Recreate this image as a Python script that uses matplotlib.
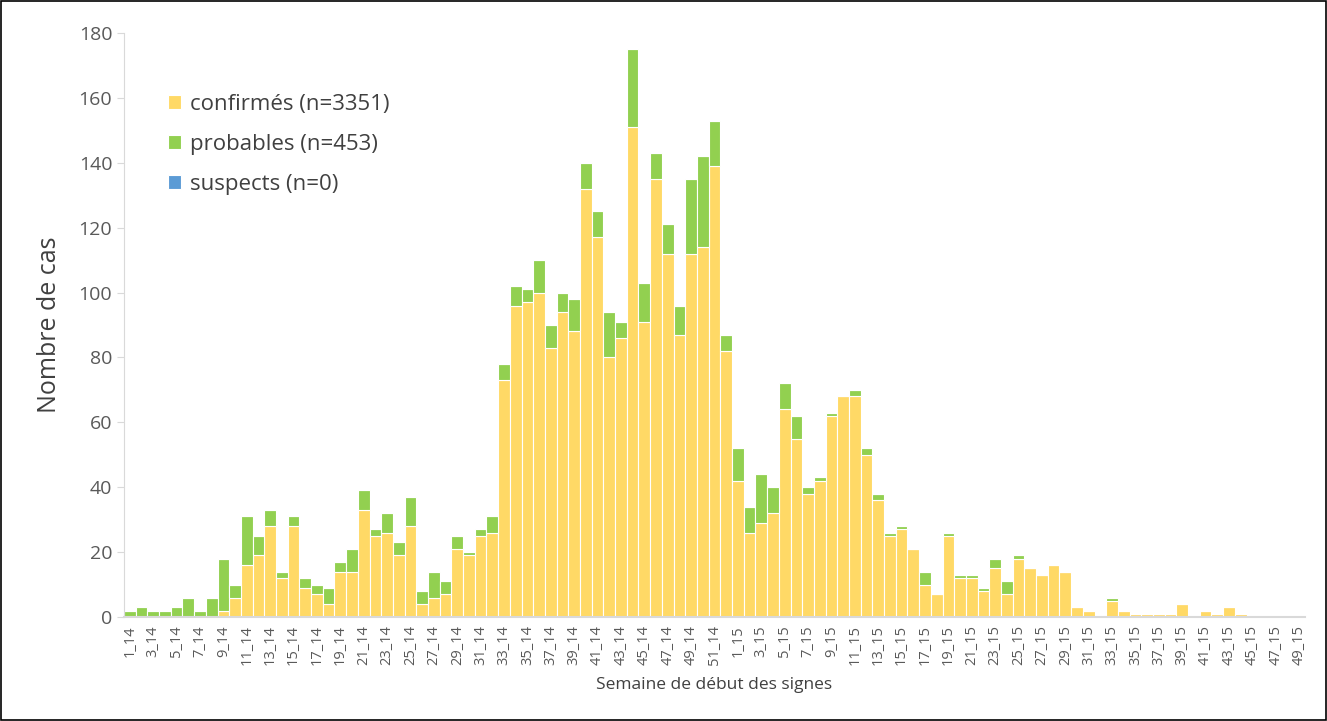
import matplotlib
matplotlib.use("Agg")
import matplotlib.pyplot as plt
import numpy as np

plt.rcParams["font.family"] = ["Open Sans", "DejaVu Sans"]

weeks = [f"{w}_14" for w in range(1, 53)] + [f"{w}_15" for w in range(1, 50)]

confirmes = [0, 0, 0, 0, 0, 0, 0, 0, 2, 6, 16, 19, 28, 12, 28, 9, 7, 4, 14, 14,
             33, 25, 26, 19, 28, 4, 6, 7, 21, 19, 25, 26, 73, 96, 97, 100, 83, 94, 88, 132,
             117, 80, 86, 151, 91, 135, 112, 87, 112, 114, 139, 82,
             42, 26, 29, 32, 64, 55, 38, 42, 62, 68, 68, 50, 36, 25, 27, 21, 10, 7, 25, 12,
             12, 8, 15, 7, 18, 15, 13, 16, 14, 3, 2, 0, 5, 2, 1, 1, 1, 1, 4, 0,
             2, 1, 3, 1, 0, 0, 0, 0, 0]
totaux = [2, 3, 2, 2, 3, 6, 2, 6, 18, 10, 31, 25, 33, 14, 31, 12, 10, 9, 17, 21,
          39, 27, 32, 23, 37, 8, 14, 11, 25, 20, 27, 31, 78, 102, 101, 110, 90, 100, 98, 140,
          125, 94, 91, 175, 103, 143, 121, 96, 135, 142, 153, 87,
          52, 34, 44, 40, 72, 62, 40, 43, 63, 68, 70, 52, 38, 26, 28, 21, 14, 7, 26, 13,
          13, 9, 18, 11, 19, 15, 13, 16, 14, 3, 2, 0, 6, 2, 1, 1, 1, 1, 4, 0,
          2, 1, 3, 1, 0, 0, 0, 0, 0]
probables = [t - c for t, c in zip(totaux, confirmes)]
suspects = [0] * len(weeks)

fig = plt.figure(figsize=(13.27, 7.21), dpi=100)
ax = fig.add_axes([124 / 1327, 1 - 617 / 721, (1305 - 124) / 1327, (617 - 33) / 721])
x = np.arange(len(weeks))
kw = dict(width=1.0, edgecolor="white", linewidth=0.8)
ax.bar(x, confirmes, color="#FFD966", label="confirmés (n=3351)", **kw)
ax.bar(x, probables, bottom=confirmes, color="#92D050", label="probables (n=453)", **kw)
ax.bar(x, suspects, bottom=totaux, color="#5B9BD5", label="suspects (n=0)", **kw)

ax.set_xlim(-0.5, len(weeks) - 0.5)
ax.set_ylim(0, 180)
ax.set_yticks(range(0, 181, 20))
ax.set_xticks(x[::2])
ax.set_xticklabels(weeks[::2], rotation=90, fontsize=10.5, color="#595959")
ax.tick_params(axis="x", length=0, pad=6)
ax.tick_params(axis="y", labelsize=14, colors="#595959", length=5, color="#d9d9d9")
for s in ["top", "right"]:
    ax.spines[s].set_visible(False)
ax.spines["left"].set_color("#d9d9d9")
ax.spines["bottom"].set_color("#d9d9d9")
ax.spines["bottom"].set_linewidth(1.5)
ax.set_ylabel("Nombre de cas", fontsize=18, color="#404040", labelpad=12)
ax.set_xlabel("Semaine de début des signes", fontsize=12.5, color="#404040", labelpad=8)
ax.legend(loc="upper left", bbox_to_anchor=(0.02, 0.93), frameon=False, fontsize=16,
          handlelength=0.6, handleheight=0.6, handletextpad=0.4, labelspacing=0.85,
          labelcolor="#404040")

fig.patches.append(plt.Rectangle((0.001, 0.001), 0.998, 0.998, transform=fig.transFigure,
                                 fill=False, edgecolor="black", linewidth=1.2))
fig.savefig("out.png", dpi=100)
